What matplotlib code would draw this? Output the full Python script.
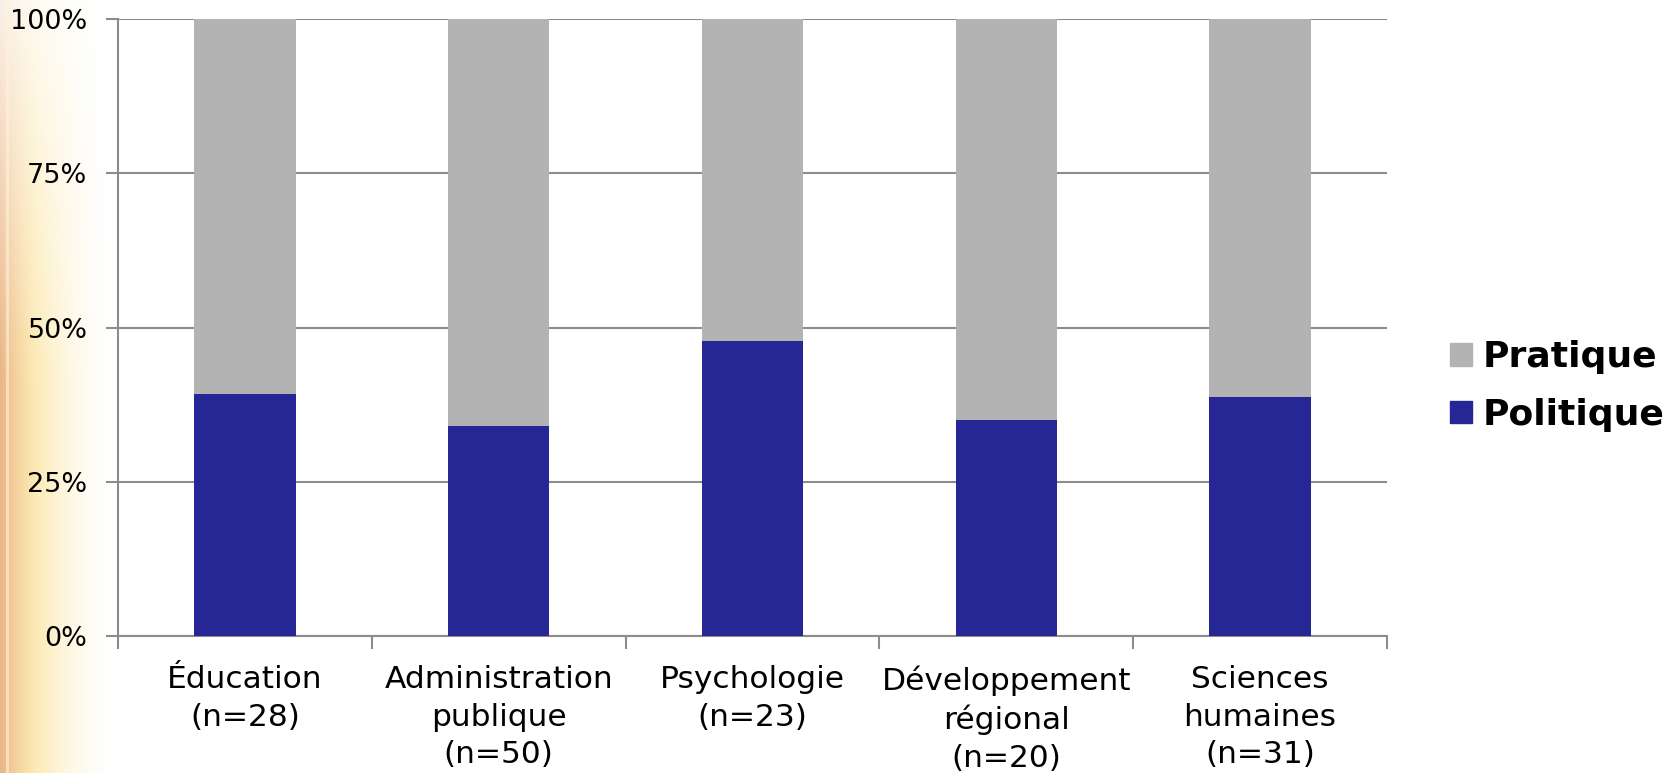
import numpy as np
import matplotlib
matplotlib.use("Agg")
import matplotlib.pyplot as plt
from matplotlib.patches import Patch

# data (shares, %)
categories = ["Éducation\n(n=28)", "Administration\npublique\n(n=50)", "Psychologie\n(n=23)",
              "Développement\nrégional\n(n=20)", "Sciences\nhumaines\n(n=31)"]
politique = [39.3, 34.0, 47.8, 35.0, 38.7]
pratique = [60.7, 66.0, 52.2, 65.0, 61.3]

col_pol = "#262694"
col_pra = "#b3b3b3"
axcol = "#8c8c8c"

W, H = 1680, 773
fig = plt.figure(figsize=(W / 100, H / 100), dpi=100)

# slide background: warm gradient along the left edge
bg = fig.add_axes([0, 0, 1, 1], zorder=-5)
xs = np.arange(W)
ys = np.arange(H)
wx = np.clip(1 - xs / 115.0, 0, 1) ** 1.7
vy = 0.2 + 0.8 * np.clip(ys / 380.0, 0, 1)
s = np.outer(vy, wx)[..., None]
t = np.clip(xs / 35.0, 0, 1)[None, :, None]
orange = np.array([234, 180, 135]) / 255.0
yellow = np.array([250, 216, 118]) / 255.0
col = orange * (1 - t) + yellow * t
img = 1.0 * (1 - s) + col * s
img[:, 6:9] = img[:, 6:9] * 0.4 + 0.6 * np.array([1.0, 0.95, 0.85])
bg.imshow(img, aspect="auto", extent=[0, 1, 0, 1])
bg.axis("off")

ax = fig.add_axes([118 / W, 1 - 636 / H, (1387 - 118) / W, (636 - 19.3) / H])
ax.patch.set_alpha(0)

x = np.arange(len(categories))
ax.bar(x, politique, width=0.4, color=col_pol, zorder=3)
ax.bar(x, pratique, width=0.4, bottom=politique, color=col_pra, zorder=3)

ax.set_xlim(-0.5, len(categories) - 0.5)
ax.set_ylim(0, 100)
ax.set_yticks([0, 25, 50, 75, 100])
ax.set_yticklabels(["0%", "25%", "50%", "75%", "100%"])
ax.yaxis.grid(True, color=axcol, lw=1.5, zorder=0)

ax.set_xticks(x)
ax.set_xticklabels(categories, fontsize=22.5, linespacing=1.37)
ax.set_xticks(np.arange(len(categories) + 1) - 0.5, minor=True)
ax.tick_params(axis="x", which="major", length=0, pad=21)
ax.tick_params(axis="x", which="minor", length=9, width=1.5, color=axcol)
ax.tick_params(axis="y", length=9, width=1.5, color=axcol, labelsize=19.5, pad=13)

for side in ["top", "right"]:
    ax.spines[side].set_visible(False)
for side in ["left", "bottom"]:
    ax.spines[side].set_color(axcol)
    ax.spines[side].set_linewidth(1.5)

handles = [Patch(color=col_pra, label="Pratique"), Patch(color=col_pol, label="Politique")]
fig.legend(handles=handles, loc="center left", bbox_to_anchor=(1450 / W, 1 - 386 / H),
           frameon=False, prop={"weight": "bold", "size": 26}, handlelength=0.6,
           handleheight=0.6, handletextpad=0.3, labelspacing=0.65, borderpad=0,
           borderaxespad=0)

fig.savefig("out.png", dpi=100)
